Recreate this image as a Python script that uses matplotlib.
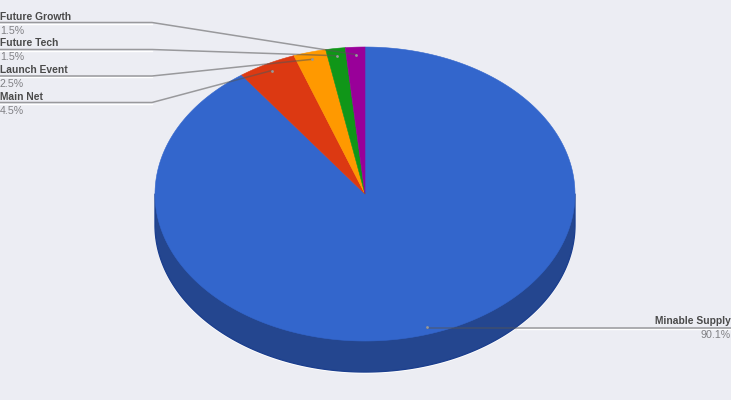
import numpy as np
import matplotlib
matplotlib.use('Agg')
import matplotlib.pyplot as plt

# slices, clockwise from 12 o'clock
labels = ['Minable Supply', 'Main Net', 'Launch Event', 'Future Tech', 'Future Growth']
values = [90.1, 4.5, 2.5, 1.5, 1.5]
pct_labels = ['90.1%', '4.5%', '2.5%', '1.5%', '1.5%']
colors = ['#3366cc', '#dc3912', '#ff9900', '#109618', '#990099']
side_color = '#24468f'
bg = '#ecedf3'

# pie geometry in pixels
cx, cy = 365, 194
rx, ry = 210, 147
depth = 31

fig = plt.figure(figsize=(7.31, 4), dpi=100, facecolor=bg)
ax = fig.add_axes([0, 0, 1, 1])
ax.set_xlim(0, 731)
ax.set_ylim(400, 0)
ax.axis('off')


def point(angle, r=1.0):
    return cx + rx * r * np.sin(angle), cy - ry * r * np.cos(angle)


# side wall, white rim first then dark edge then wall
t = np.linspace(np.pi / 2, 3 * np.pi / 2, 300)
wx = cx + rx * np.sin(t)
wy = cy + depth - ry * np.cos(t)
wall_x = np.concatenate([[cx + rx], wx, [cx - rx]])
wall_y = np.concatenate([[cy], wy, [cy]])
ax.plot(wall_x, wall_y + 0.8, color='white', lw=1.2, zorder=1)
ax.fill(wall_x, wall_y, color=side_color, ec='#1c3f8e', lw=1, zorder=2)

# top face
shares = np.array(values) / sum(values) * 2 * np.pi
ends = np.cumsum(shares)
starts = ends - shares
for a, b, c in zip(starts, ends, colors):
    tt = np.linspace(a, b, 300)
    px, py = point(tt)
    ax.fill(np.r_[cx, px], np.r_[cy, py], color=c, ec=c, lw=0.4, zorder=3)

# leader lines + labels, rule_y is the y of the horizontal rule
rule_y = [327.5, 102.5, 76, 49.5, 22.5]
for i, lab in enumerate(labels):
    ax_, ay_ = point((starts[i] + ends[i]) / 2, 0.95)
    if lab == 'Minable Supply':
        xs = [731, ax_]
        ys = [rule_y[i], rule_y[i]]
        tx, ha = 731, 'right'
        halo_x = [731, 517]
    else:
        xs = [0, 152, ax_]
        ys = [rule_y[i], rule_y[i], ay_]
        tx, ha = 0, 'left'
        halo_x = [0, 152]
    ax.plot(halo_x, [rule_y[i] + 1, rule_y[i] + 1], color='white', lw=1, zorder=4)
    ax.plot(xs, ys, color='#555555', alpha=0.55, lw=1.1, zorder=5)
    ax.plot([ax_], [ay_], 'o', ms=2, color='#999999', mec='none', zorder=6)
    ax.text(tx, rule_y[i] - 6, lab, ha=ha, va='center', family='Liberation Sans',
            fontsize=7.4, fontweight='bold', color='#4a4a4a', zorder=7)
    ax.text(tx, rule_y[i] + 8, pct_labels[i], ha=ha, va='center', family='Liberation Sans',
            fontsize=7.7, color='#808084', zorder=7)

fig.savefig('out.png', dpi=100, facecolor=bg)
